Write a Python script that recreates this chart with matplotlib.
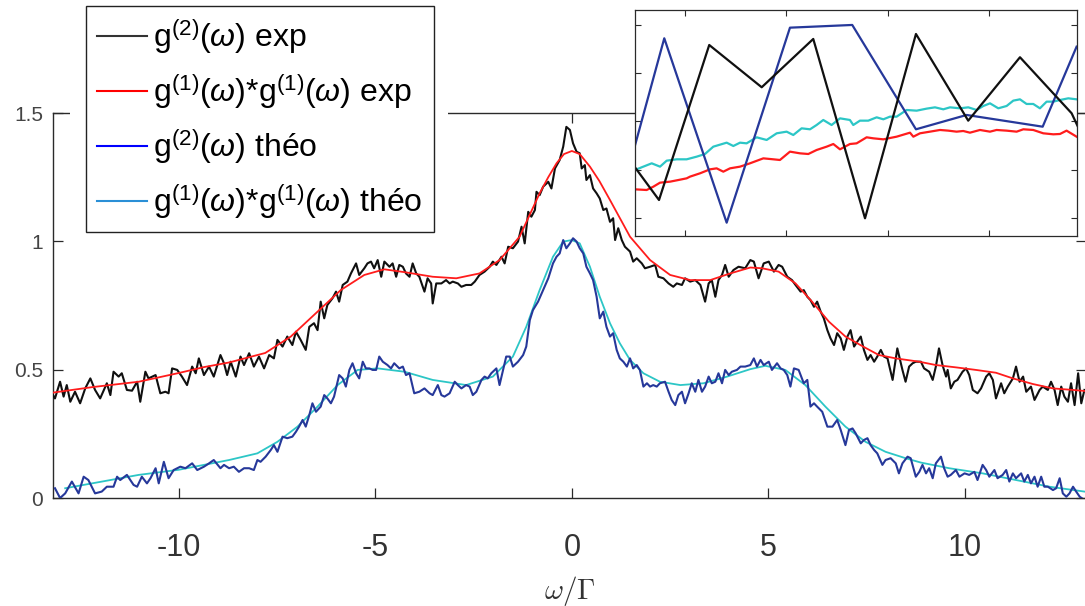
import matplotlib
matplotlib.use("Agg")
import matplotlib.pyplot as plt
from matplotlib.lines import Line2D
from matplotlib.patches import Rectangle

plt.rcParams['font.family'] = ['Liberation Sans', 'DejaVu Sans']
plt.rcParams['axes.unicode_minus'] = False
plt.rcParams['mathtext.fontset'] = 'custom'
plt.rcParams['mathtext.rm'] = 'Liberation Sans'
plt.rcParams['mathtext.it'] = 'Liberation Sans:italic'

# ---------------- main panel data ----------------
# g2 experimental (noisy, black)
g2_exp_x = [-13.23, -13.15, -13.02, -12.93, -12.85, -12.76, -12.64, -12.51, -12.38, -12.25, -12.13, -12.00,
            -11.83, -11.74, -11.66, -11.53, -11.45, -11.32, -11.19, -11.06, -10.98, -10.85, -10.77, -10.59,
            -10.47, -10.34, -10.26, -10.17, -10.04, -9.92, -9.79, -9.66, -9.57, -9.49, -9.36, -9.23, -9.11,
            -8.94, -8.85, -8.77, -8.68, -8.55, -8.43, -8.34, -8.21, -8.09, -7.96, -7.83, -7.70, -7.58, -7.49,
            -7.36, -7.24, -7.11, -7.02, -6.90, -6.77, -6.68, -6.56, -6.47, -6.39, -6.30, -6.22, -6.09, -6.00,
            -5.92, -5.83, -5.71, -5.62, -5.49, -5.41, -5.28, -5.20, -5.11, -5.03, -4.94, -4.85, -4.77, -4.64,
            -4.56, -4.47, -4.39, -4.30, -4.22, -4.13, -4.05, -3.96, -3.88, -3.75, -3.67, -3.58, -3.54, -3.45,
            -3.32, -3.20, -3.11, -3.03, -2.90, -2.81, -2.69, -2.56, -2.47, -2.35, -2.22, -2.09, -2.01, -1.92,
            -1.79, -1.71, -1.62, -1.50, -1.37, -1.28, -1.20, -1.11, -1.03, -0.94, -0.90, -0.82, -0.73, -0.60,
            -0.52, -0.43, -0.31, -0.22, -0.14, -0.05, 0.03, 0.12, 0.20, 0.25, 0.33, 0.37, 0.46, 0.54, 0.63,
            0.71, 0.80, 0.88, 0.97, 1.05, 1.10, 1.18, 1.27, 1.35, 1.48, 1.56, 1.65, 1.78, 1.86, 1.99, 2.12,
            2.20, 2.33, 2.46, 2.58, 2.67, 2.80, 2.88, 3.01, 3.14, 3.27, 3.39, 3.48, 3.56, 3.65, 3.73, 3.82,
            3.90, 3.99, 4.11, 4.24, 4.41, 4.54, 4.63, 4.75, 4.88, 5.01, 5.14, 5.26, 5.35, 5.48, 5.60, 5.69,
            5.82, 5.90, 5.99, 6.07, 6.16, 6.24, 6.33, 6.41, 6.50, 6.58, 6.67, 6.75, 6.84, 6.92, 7.01, 7.09,
            7.18, 7.26, 7.35, 7.43, 7.52, 7.60, 7.69, 7.77, 7.86, 7.94, 8.03, 8.16, 8.28, 8.41, 8.49, 8.58,
            8.67, 8.75, 8.88, 8.96, 9.09, 9.18, 9.26, 9.34, 9.43, 9.52, 9.56, 9.64, 9.73, 9.81, 9.94, 10.03,
            10.11, 10.20, 10.32, 10.41, 10.54, 10.62, 10.71, 10.79, 10.92, 11.00, 11.09, 11.22, 11.30, 11.39,
            11.48, 11.56, 11.68, 11.77, 11.90, 11.98, 12.11, 12.19, 12.28, 12.36, 12.45, 12.53, 12.62, 12.70,
            12.79, 12.88, 12.96, 13.04]
g2_exp_y = [0.408, 0.388, 0.453, 0.395, 0.440, 0.375, 0.414, 0.369, 0.427, 0.466, 0.421, 0.388,
            0.447, 0.401, 0.492, 0.473, 0.486, 0.421, 0.418, 0.453, 0.375, 0.492, 0.466, 0.479,
            0.408, 0.414, 0.408, 0.505, 0.499, 0.473, 0.440, 0.512, 0.486, 0.544, 0.479, 0.512, 0.473,
            0.557, 0.525, 0.479, 0.531, 0.473, 0.551, 0.518, 0.564, 0.512, 0.551, 0.505, 0.557, 0.544, 0.616,
            0.590, 0.629, 0.596, 0.648, 0.616, 0.577, 0.667, 0.681, 0.654, 0.765, 0.700, 0.752, 0.778, 0.804,
            0.765, 0.830, 0.843, 0.875, 0.914, 0.869, 0.895, 0.914, 0.921, 0.895, 0.927, 0.862, 0.921, 0.901,
            0.914, 0.862, 0.908, 0.901, 0.875, 0.862, 0.914, 0.875, 0.862, 0.804, 0.856, 0.836, 0.758, 0.836,
            0.836, 0.849, 0.836, 0.843, 0.836, 0.823, 0.830, 0.830, 0.843, 0.869, 0.882, 0.901, 0.921, 0.908,
            0.940, 0.914, 0.979, 0.973, 0.999, 1.057, 0.992, 1.115, 1.096, 1.122, 1.193, 1.180, 1.213, 1.232,
            1.206, 1.284, 1.317, 1.369, 1.446, 1.434, 1.382, 1.349, 1.343, 1.284, 1.297, 1.239, 1.258, 1.206, 1.187,
            1.167, 1.122, 1.128, 1.076, 1.090, 1.005, 1.051, 1.005, 0.979, 0.960, 0.921, 0.934, 0.914, 0.895, 0.901, 0.908,
            0.862, 0.856, 0.836, 0.823, 0.836, 0.830, 0.856, 0.843, 0.849, 0.830, 0.765, 0.836, 0.849, 0.784, 0.849, 0.869,
            0.908, 0.862, 0.888, 0.901, 0.895, 0.927, 0.921, 0.856, 0.914, 0.921, 0.882, 0.908, 0.901, 0.862, 0.849, 0.830,
            0.804, 0.810, 0.784, 0.771, 0.745, 0.765, 0.726, 0.700, 0.654, 0.622, 0.596, 0.642, 0.622, 0.577, 0.629, 0.654,
            0.590, 0.609, 0.629, 0.577, 0.538, 0.557, 0.531, 0.551, 0.577, 0.551, 0.544, 0.460, 0.583, 0.499, 0.453, 0.512,
            0.525, 0.531, 0.531, 0.505, 0.492, 0.460, 0.512, 0.583, 0.518, 0.473, 0.499, 0.427, 0.453, 0.460, 0.492, 0.505,
            0.479, 0.421, 0.408, 0.427, 0.473, 0.486, 0.460, 0.388, 0.447, 0.408, 0.434, 0.466, 0.512, 0.453,
            0.473, 0.414, 0.434, 0.382, 0.421, 0.434, 0.421, 0.453, 0.421, 0.362, 0.434, 0.395, 0.375, 0.447,
            0.362, 0.486, 0.369, 0.421]

# g1*g1 experimental (smooth, red)
g1g1_exp_x = [-13.23, -12.2, -11.02, -10.0, -9.36, -8.72, -8.0, -7.8, -7.15, -6.47, -5.88, -5.28, -4.77,
              -4.26, -3.54, -2.94, -2.35, -1.84, -1.33, -0.82, -0.6, -0.39, -0.2, 0.0, 0.2, 0.46, 0.7, 0.97,
              1.48, 1.99, 2.50, 3.01, 3.52, 4.03, 4.54, 4.84, 5.26, 5.69, 6.11, 6.54, 6.96, 7.41, 7.81, 8.24,
              8.84, 9.26, 9.77, 10.28, 10.79, 11.22, 11.73, 12.24, 12.75, 13.04]
g1g1_exp_y = [0.410, 0.432, 0.453, 0.487, 0.510, 0.528, 0.557, 0.565, 0.629, 0.726, 0.810, 0.869, 0.891,
              0.880, 0.862, 0.856, 0.875, 0.927, 1.018, 1.187, 1.250, 1.304, 1.340, 1.352, 1.340, 1.291, 1.235, 1.161,
              1.018, 0.927, 0.869, 0.849, 0.849, 0.875, 0.898, 0.895, 0.882, 0.836, 0.765, 0.687, 0.629, 0.590, 0.557, 0.544,
              0.531, 0.518, 0.509, 0.499, 0.488, 0.466, 0.444, 0.427, 0.421, 0.417]

# g2 theory (noisy, dark blue)
g2_th_x = [-13.15, -13.02, -12.89, -12.72, -12.55, -12.42, -12.30, -12.13, -11.96, -11.83, -11.66, -11.57,
           -11.49, -11.32, -11.15, -11.06, -10.94, -10.81, -10.72, -10.59, -10.51, -10.38, -10.26, -10.13,
           -9.96, -9.83, -9.66, -9.53, -9.36, -9.23, -9.11, -8.94, -8.85, -8.72, -8.60, -8.47, -8.34, -8.21,
           -8.09, -8.00, -7.92, -7.79, -7.66, -7.58, -7.49, -7.36, -7.24, -7.11, -7.02, -6.94, -6.85, -6.77,
           -6.68, -6.60, -6.51, -6.39, -6.30, -6.22, -6.13, -6.05, -5.92, -5.83, -5.75, -5.66, -5.58, -5.49,
           -5.41, -5.32, -5.24, -5.15, -5.07, -4.98, -4.90, -4.81, -4.69, -4.60, -4.52, -4.39, -4.30, -4.22,
           -4.13, -4.01, -3.88, -3.75, -3.62, -3.54, -3.41, -3.32, -3.24, -3.11, -2.98, -2.90, -2.81, -2.69,
           -2.60, -2.52, -2.43, -2.30, -2.22, -2.14, -2.05, -1.92, -1.84, -1.75, -1.67, -1.58, -1.50, -1.37,
           -1.24, -1.16, -1.07, -0.99, -0.86, -0.73, -0.60, -0.48, -0.39, -0.31, -0.22, -0.14, -0.05, 0.03,
           0.12, 0.20, 0.29, 0.37, 0.46, 0.54, 0.63, 0.71, 0.80, 0.88, 0.97, 1.05, 1.14, 1.22, 1.31, 1.40,
           1.48, 1.56, 1.65, 1.73, 1.82, 1.91, 1.99, 2.07, 2.16, 2.24, 2.37, 2.46, 2.54, 2.63, 2.71, 2.80,
           2.88, 2.97, 3.05, 3.14, 3.22, 3.31, 3.39, 3.48, 3.56, 3.65, 3.73, 3.82, 3.90, 3.99, 4.07, 4.20,
           4.29, 4.41, 4.54, 4.63, 4.71, 4.80, 4.88, 5.01, 5.09, 5.22, 5.31, 5.39, 5.48, 5.56, 5.65, 5.77,
           5.90, 5.99, 6.07, 6.16, 6.24, 6.37, 6.50, 6.63, 6.75, 6.84, 6.96, 7.05, 7.14, 7.22, 7.35, 7.43,
           7.52, 7.60, 7.69, 7.77, 7.90, 7.98, 8.11, 8.24, 8.32, 8.41, 8.54, 8.62, 8.75, 8.84, 8.92, 9.01,
           9.09, 9.18, 9.26, 9.39, 9.47, 9.56, 9.64, 9.77, 9.86, 9.99, 10.11, 10.24, 10.32, 10.45, 10.54,
           10.62, 10.75, 10.83, 10.96, 11.05, 11.13, 11.22, 11.30, 11.43, 11.51, 11.60, 11.68, 11.77, 11.85,
           11.94, 12.02, 12.11, 12.24, 12.32, 12.41, 12.49, 12.58, 12.66, 12.75, 12.83, 12.92, 13.04]
g2_th_y = [0.038, 0.000, 0.018, 0.064, 0.018, 0.083, 0.070, 0.018, 0.025, 0.044, 0.044, 0.083,
           0.070, 0.090, 0.051, 0.044, 0.083, 0.057, 0.077, 0.116, 0.057, 0.141, 0.077, 0.109,
           0.122, 0.116, 0.135, 0.109, 0.122, 0.135, 0.148, 0.116, 0.129, 0.116, 0.122, 0.102, 0.116, 0.116,
           0.109, 0.148, 0.141, 0.161, 0.187, 0.206, 0.180, 0.239, 0.233, 0.239, 0.258, 0.278, 0.304, 0.278,
           0.323, 0.369, 0.336, 0.356, 0.401, 0.388, 0.369, 0.395, 0.479, 0.466, 0.434, 0.499, 0.525, 0.486,
           0.466, 0.531, 0.505, 0.505, 0.499, 0.499, 0.551, 0.531, 0.518, 0.505, 0.525, 0.505, 0.512, 0.479,
           0.486, 0.408, 0.414, 0.427, 0.408, 0.401, 0.440, 0.401, 0.395, 0.408, 0.453, 0.440, 0.427, 0.440,
           0.434, 0.401, 0.414, 0.460, 0.473, 0.466, 0.486, 0.505, 0.440, 0.499, 0.551, 0.551, 0.512, 0.531,
           0.557, 0.590, 0.693, 0.732, 0.765, 0.810, 0.856, 0.914, 0.940, 0.953, 1.005, 0.973, 0.992, 1.012,
           0.999, 0.973, 0.953, 0.901, 0.875, 0.849, 0.784, 0.700, 0.726, 0.667, 0.629, 0.642, 0.577, 0.544, 0.531, 0.512,
           0.544, 0.505, 0.518, 0.499, 0.434, 0.447, 0.434, 0.440, 0.434, 0.447, 0.453, 0.414, 0.382, 0.362, 0.401, 0.414,
           0.369, 0.408, 0.447, 0.414, 0.460, 0.414, 0.434, 0.473, 0.447, 0.453, 0.486, 0.447, 0.499, 0.479, 0.492, 0.499,
           0.512, 0.512, 0.518, 0.544, 0.512, 0.538, 0.518, 0.531, 0.499, 0.525, 0.505, 0.499, 0.479, 0.434, 0.505, 0.499,
           0.447, 0.460, 0.356, 0.369, 0.356, 0.336, 0.278, 0.278, 0.304, 0.265, 0.206, 0.265, 0.271, 0.252, 0.213, 0.226,
           0.233, 0.206, 0.187, 0.174, 0.129, 0.148, 0.155, 0.135, 0.096, 0.135, 0.161, 0.155, 0.083, 0.102, 0.129, 0.096,
           0.116, 0.077, 0.135, 0.161, 0.116, 0.083, 0.090, 0.109, 0.083, 0.096, 0.090, 0.102, 0.070, 0.129, 0.109,
           0.083, 0.109, 0.077, 0.090, 0.109, 0.064, 0.096, 0.077, 0.096, 0.064, 0.090, 0.057, 0.083, 0.044,
           0.083, 0.044, 0.044, 0.031, 0.038, 0.077, 0.018, 0.005, 0.018, 0.044, 0.025, 0.005, -0.008]

# g1*g1 theory (smooth, cyan)
g1g1_th_x = [-12.89, -11.02, -10.0, -8.72, -8.0, -7.49, -6.98, -6.47, -5.96, -5.45, -4.94, -4.26, -3.54,
             -2.69, -2.01, -1.50, -1.16, -0.82, -0.48, -0.22, 0.0, 0.20, 0.46, 0.71, 0.97, 1.22, 1.48, 1.82,
             2.24, 2.76, 3.35, 3.95, 4.54, 4.92, 5.43, 5.94, 6.45, 6.96, 7.47, 7.98, 8.49, 8.88, 9.60, 10.45,
             11.30, 12.15, 13.04]
g1g1_th_y = [0.038, 0.090, 0.110, 0.148, 0.174, 0.219, 0.278, 0.356, 0.440, 0.499, 0.505, 0.492, 0.460,
             0.440, 0.473, 0.551, 0.667, 0.810, 0.940, 0.999, 1.005, 0.992, 0.901, 0.784, 0.681, 0.603, 0.538, 0.486,
             0.453, 0.440, 0.447, 0.473, 0.502, 0.515, 0.499, 0.440, 0.356, 0.278, 0.219, 0.180, 0.155, 0.138, 0.116, 0.096,
             0.070, 0.044, 0.025]

x_ticks = [-10, -5, 0, 5, 10]
y_ticks = [0, 0.5, 1, 1.5]
y_ticklabels = ['0', '0.5', '1', '1.5']
legend_labels = [r'g$^{(2)}$($\omega$) exp',
                 r'g$^{(1)}$($\omega$)*g$^{(1)}$($\omega$) exp',
                 r'g$^{(2)}$($\omega$) théo',
                 r'g$^{(1)}$($\omega$)*g$^{(1)}$($\omega$) théo']

# ---------------- inset data ----------------
ins_g2_th_x = [0.489, 0.795, 1.411, 2.036, 2.651, 3.280, 3.780, 4.531, 4.866]
ins_g2_th_y = [2.374, 4.724, 0.903, 4.944, 5.000, 2.838, 3.135, 2.892, 4.550]
ins_g2_exp_x = [0.489, 0.743, 1.239, 1.757, 2.266, 2.777, 3.280, 3.796, 4.307, 4.817, 4.879]
ins_g2_exp_y = [2.098, 1.373, 4.585, 3.709, 4.710, 0.994, 4.813, 3.017, 4.331, 3.170, 2.892]
ins_cyan_x = [0.506, 0.588, 0.671, 0.753, 0.819, 0.917, 1.016, 1.115, 1.197, 1.279, 1.411, 1.477, 1.543,
              1.608, 1.707, 1.806, 1.905, 2.003, 2.069, 2.151, 2.234, 2.299, 2.365, 2.447, 2.530, 2.628,
              2.661, 2.727, 2.809, 2.892, 2.958, 3.023, 3.089, 3.188, 3.287, 3.385, 3.468, 3.550, 3.616,
              3.714, 3.797, 3.879, 3.945, 4.011, 4.093, 4.175, 4.241, 4.307, 4.372, 4.438, 4.504, 4.570,
              4.636, 4.702, 4.784, 4.866]
ins_cyan_y = [1.995, 2.064, 2.133, 2.064, 2.188, 2.216, 2.216, 2.271, 2.326, 2.478, 2.561, 2.492, 2.561,
              2.547, 2.672, 2.617, 2.755, 2.789, 2.720, 2.858, 2.838, 2.927, 3.031, 2.927, 3.065, 3.031,
              2.927, 3.017, 3.017, 3.086, 3.045, 3.100, 3.100, 3.238, 3.224, 3.266, 3.293, 3.252, 3.293,
              3.273, 3.293, 3.238, 3.321, 3.376, 3.273, 3.321, 3.432, 3.459, 3.363, 3.363, 3.273, 3.411,
              3.411, 3.445, 3.480, 3.459]
ins_red_x = [0.506, 0.621, 0.687, 0.753, 0.852, 0.934, 1.016, 1.049, 1.148, 1.246, 1.312, 1.378, 1.444,
             1.543, 1.641, 1.773, 1.872, 1.937, 2.036, 2.135, 2.217, 2.299, 2.398, 2.464, 2.530, 2.628,
             2.694, 2.793, 2.859, 2.958, 3.089, 3.221, 3.254, 3.320, 3.418, 3.517, 3.599, 3.681, 3.747,
             3.813, 3.912, 4.011, 4.076, 4.175, 4.274, 4.340, 4.438, 4.537, 4.636, 4.702, 4.767, 4.866]
ins_red_y = [1.594, 1.580, 1.649, 1.732, 1.753, 1.787, 1.822, 1.857, 1.926, 2.008, 2.029, 1.960, 2.029,
             2.064, 2.133, 2.236, 2.216, 2.202, 2.375, 2.340, 2.326, 2.409, 2.478, 2.533, 2.423, 2.533,
             2.547, 2.672, 2.651, 2.630, 2.685, 2.768, 2.685, 2.755, 2.789, 2.824, 2.810, 2.789, 2.803,
             2.768, 2.824, 2.789, 2.824, 2.810, 2.789, 2.838, 2.824, 2.755, 2.734, 2.741, 2.810, 2.685]
ins_x_ticks = [1, 2, 3, 4]
ins_y_ticks = [1, 2, 3, 4, 5]

# ---------------- styles ----------------
C_BLACK = '#101010'
C_RED = '#ff1c1c'
C_NAVY = '#26389a'
C_CYAN = '#2cc6c6'
SPINE = '#2a2a2a'

W, H = 1085, 606
fig = plt.figure(figsize=(W / 100, H / 100), dpi=100)
fig.patch.set_facecolor('white')

ax = fig.add_axes([53 / W, (H - 498) / H, (1086 - 53) / W, (498 - 113) / H])
ax.plot(g2_exp_x, g2_exp_y, color=C_BLACK, lw=1.5, zorder=3)
ax.plot(g1g1_exp_x, g1g1_exp_y, color=C_RED, lw=1.3, zorder=4)
ax.plot(g1g1_th_x, g1g1_th_y, color=C_CYAN, lw=1.3, zorder=3)
ax.plot(g2_th_x, g2_th_y, color=C_NAVY, lw=1.5, zorder=4)
ax.set_xlim(-13.2, 13.08)
ax.set_ylim(0, 1.5)
ax.set_xticks(x_ticks)
ax.set_xticklabels([str(t) for t in x_ticks])
ax.set_yticks(y_ticks)
ax.set_yticklabels(y_ticklabels)
ax.tick_params(axis='both', direction='in', top=True, right=True, length=7, width=0.9, color=SPINE)
ax.tick_params(axis='x', labelsize=22, pad=25, labelcolor='#333333')
ax.tick_params(axis='y', labelsize=15, pad=7, labelcolor='#444444')
for s in ax.spines.values():
    s.set_color(SPINE)
    s.set_linewidth(1.0)
ax.set_xlabel(r'$\omega/\Gamma$', fontsize=21, math_fontfamily='cm', labelpad=8, color='#333333')

# white band mimicking legend background overlapping the top spine
ax.add_patch(Rectangle(((70 - 53) / 1033, 0.985), (448 - 70) / 1033, 0.03, transform=ax.transAxes,
                       facecolor='white', edgecolor='none', clip_on=False, zorder=4.5))

handles = [Line2D([], [], color='#333333', lw=1.5),
           Line2D([], [], color='#ff0000', lw=1.5),
           Line2D([], [], color='#0000ff', lw=1.5),
           Line2D([], [], color='#2a8fd6', lw=1.5)]
leg = ax.legend(handles, legend_labels, loc='upper left', bbox_to_anchor=(86 / W, 1 - 6 / H),
                bbox_transform=fig.transFigure, borderaxespad=0, fontsize=23, frameon=True,
                fancybox=False, handlelength=1.55, handletextpad=0.2, borderpad=0.35, labelspacing=0.5)
leg.get_frame().set_edgecolor('#222222')
leg.get_frame().set_linewidth(1.0)
leg.get_frame().set_alpha(1)
leg.set_zorder(6)

# inset
ins = fig.add_axes([635 / W, (H - 236) / H, (1077 - 635) / W, (236 - 10) / H])
ins.plot(ins_red_x, ins_red_y, color=C_RED, lw=1.6)
ins.plot(ins_cyan_x, ins_cyan_y, color=C_CYAN, lw=1.6)
ins.plot(ins_g2_th_x, ins_g2_th_y, color=C_NAVY, lw=1.6)
ins.plot(ins_g2_exp_x, ins_g2_exp_y, color=C_BLACK, lw=1.6)
ins.set_xlim(0.506, 4.87)
ins.set_ylim(0.627, 5.31)
ins.set_xticks(ins_x_ticks)
ins.set_yticks(ins_y_ticks)
ins.tick_params(axis='both', direction='in', top=True, right=True, length=4, width=0.8, color=SPINE,
                labelbottom=False, labelleft=False)
for s in ins.spines.values():
    s.set_color(SPINE)
    s.set_linewidth(0.9)

fig.savefig('out.png', dpi=100)
